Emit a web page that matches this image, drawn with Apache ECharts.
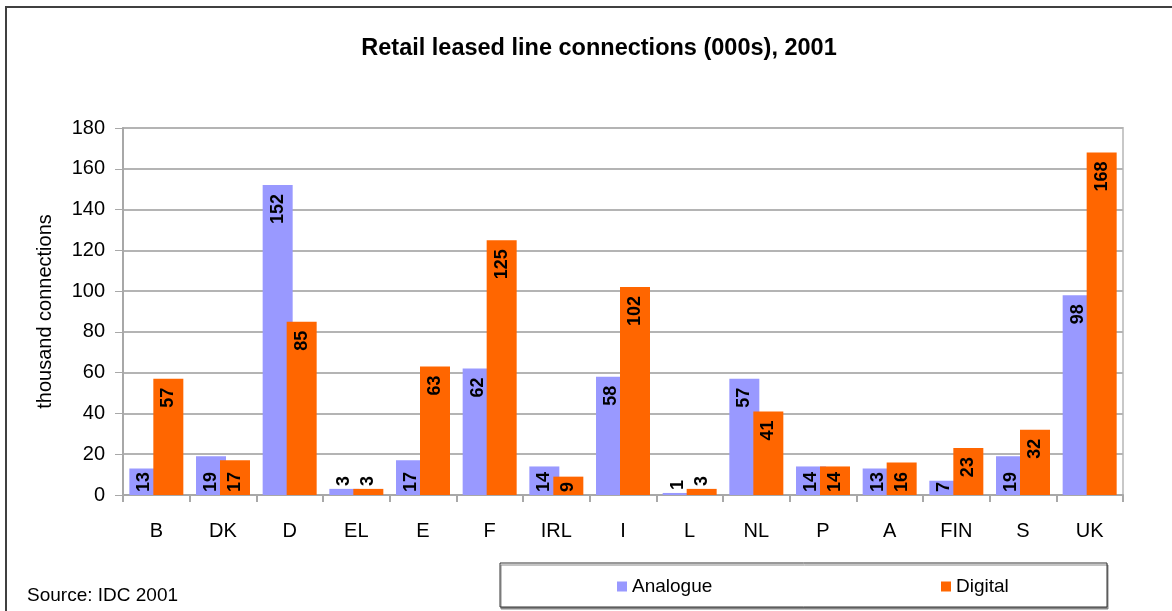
<!DOCTYPE html>
<html>
<head>
<meta charset="utf-8">
<script src="https://cdn.jsdelivr.net/npm/echarts@6/dist/echarts.min.js"></script>
<style>
  html, body { margin: 0; padding: 0; background: #fff; }
  #main { width: 1172px; height: 611px; }
</style>
</head>
<body>
<div id="main"></div>
<script>
// countries
const countries = ['B', 'DK', 'D', 'EL', 'E', 'F', 'IRL', 'I', 'L', 'NL', 'P', 'A', 'FIN', 'S', 'UK'];
// thousand connections
const analogue = [13, 19, 152, 3, 17, 62, 14, 58, 1, 57, 14, 13, 7, 19, 98];
const digital = [57, 17, 85, 3, 63, 125, 9, 102, 3, 41, 14, 16, 23, 32, 168];
const yTicks = [0, 20, 40, 60, 80, 100, 120, 140, 160, 180];

const FONT = "'Liberation Sans', Arial, sans-serif";

const chart = echarts.init(document.getElementById('main'));

// excel-ish label placement: tiny bars -> above, short bars -> sit on the bottom
function withLabels(values) {
  return values.map(function (v) {
    if (v <= 3) {
      return {
        value: v,
        label: { position: 'top', align: 'left', distance: 3 }
      };
    }
    if (v < 20) {
      return {
        value: v,
        label: { position: 'insideBottom', align: 'left', distance: 3 }
      };
    }
    return v;
  });
}

const barLabel = {
  show: true,
  position: 'insideTop',
  rotate: 90,
  align: 'right',
  verticalAlign: 'middle',
  distance: 9,
  color: '#000',
  fontFamily: FONT,
  fontWeight: 'bold',
  fontSize: 18
};

var option = {
  backgroundColor: '#fff',
  animation: false,
  title: {
    text: 'Retail leased line connections (000s), 2001',
    left: 594,
    textAlign: 'center',
    top: 32,
    textStyle: {
      fontFamily: FONT,
      fontWeight: 'bold',
      fontSize: 23.5,
      color: '#000'
    }
  },
  grid: {
    left: 123,
    right: 49,
    top: 128,
    bottom: 116,
    show: true,
    borderColor: '#c8c8c8',
    borderWidth: 2
  },
  legend: [{
    data: ['Analogue'],
    left: 612,
    top: 572,
    icon: 'rect',
    itemWidth: 10,
    itemHeight: 10,
    itemGap: 8,
    textStyle: { fontFamily: FONT, fontSize: 19, color: '#000' }
  }, {
    data: ['Digital'],
    left: 936,
    top: 572,
    icon: 'rect',
    itemWidth: 10,
    itemHeight: 10,
    itemGap: 8,
    textStyle: { fontFamily: FONT, fontSize: 19, color: '#000' }
  }],
  xAxis: {
    type: 'category',
    data: countries,
    axisLine: { show: true, lineStyle: { color: '#a8a8a8', width: 2 } },
    axisTick: { show: true, length: 7, lineStyle: { color: '#a8a8a8', width: 2 } },
    axisLabel: {
      margin: 26,
      fontFamily: FONT,
      fontSize: 20,
      color: '#000'
    },
    splitLine: { show: false }
  },
  yAxis: {
    type: 'value',
    min: yTicks[0],
    max: yTicks[yTicks.length - 1],
    interval: 20,
    name: 'thousand connections',
    nameLocation: 'middle',
    nameGap: 68,
    nameTextStyle: { fontFamily: FONT, fontSize: 20, color: '#000' },
    axisLine: { show: true, lineStyle: { color: '#a8a8a8', width: 2 } },
    axisTick: { show: true, length: 8, lineStyle: { color: '#a8a8a8', width: 1 } },
    axisLabel: {
      margin: 18,
      fontFamily: FONT,
      fontSize: 20,
      color: '#000'
    },
    splitLine: { show: true, lineStyle: { color: '#b4b4b4', width: 2 } }
  },
  series: [{
    name: 'Analogue',
    type: 'bar',
    data: withLabels(analogue),
    barWidth: 30,
    barGap: '-20%',
    itemStyle: { color: '#9999ff' },
    label: barLabel
  }, {
    name: 'Digital',
    type: 'bar',
    data: withLabels(digital),
    barWidth: 30,
    itemStyle: { color: '#ff6600' },
    label: barLabel
  }],
  graphic: [{
    type: 'rect',
    shape: { x: 6, y: 7, width: 1180, height: 620 },
    style: { fill: null, stroke: '#404040', lineWidth: 2 },
    silent: true,
    z: -1
  }, {
    type: 'rect',
    shape: { x: 500, y: 563, width: 607, height: 44 },
    style: {
      fill: '#fff',
      stroke: '#333',
      lineWidth: 1,
      shadowColor: '#888',
      shadowOffsetX: 1,
      shadowOffsetY: 2,
      shadowBlur: 0
    },
    silent: true,
    z: -1
  }, {
    type: 'text',
    left: 27,
    top: 586,
    style: {
      text: 'Source: IDC 2001',
      fontFamily: FONT,
      fontSize: 19,
      fill: '#000'
    }
  }]
};

chart.setOption(option);
</script>
</body>
</html>
